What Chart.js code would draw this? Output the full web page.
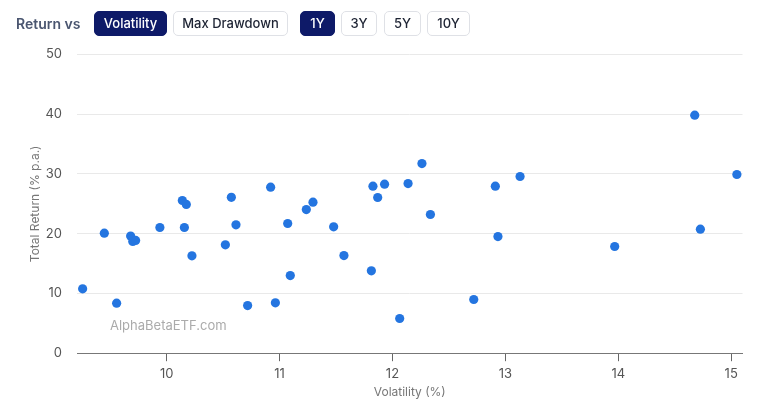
<!DOCTYPE html>
<html>
<head>
<meta charset="utf-8">
<script src="https://cdn.jsdelivr.net/npm/chart.js@4.4.1/dist/chart.umd.min.js"></script>
<style>
  html, body { margin:0; padding:0; background:#fff; width:768px; height:410px; overflow:hidden; font-family: Inter, "Noto Sans", sans-serif; }
  #wrap { position:relative; width:768px; height:410px; }
  canvas { position:absolute; left:0; top:0; }
  .hdr { position:absolute; top:11px; left:0; height:25px; width:768px; }
  .lbl { position:absolute; left:16px; top:0; line-height:25px; font-size:14px; font-weight:600; color:#4a5670; }
  .btn { position:absolute; top:0; height:23px; line-height:23px; box-sizing:content-box; border:1px solid #dfe1e6; border-radius:5px; background:#fff; color:#1d2333; font-size:13px; font-weight:500; text-align:center; }
  .btn.on { background:#0e1a68; border-color:#0e1a68; color:#fff; }
  .wm { position:absolute; left:110px; top:317px; font-size:13px; color:#ababab; }
</style>
</head>
<body>
<div id="wrap">
  <canvas id="c" width="768" height="410"></canvas>
  <div class="hdr">
    <div class="lbl">Return vs</div>
    <div class="btn on" style="left:94px;width:71px;">Volatility</div>
    <div class="btn" style="left:173px;width:113px;">Max Drawdown</div>
    <div class="btn on" style="left:300px;width:33px;">1Y</div>
    <div class="btn" style="left:341px;width:34px;">3Y</div>
    <div class="btn" style="left:384px;width:35px;">5Y</div>
    <div class="btn" style="left:427px;width:41px;">10Y</div>
  </div>
  <div class="wm">AlphaBetaETF.com</div>
</div>
<script>
const volatility = [9.256, 9.448, 9.557, 9.681, 9.700, 9.725, 9.940, 10.139, 10.174, 10.157, 10.224,
  10.520, 10.573, 10.614, 10.717, 10.921, 10.963, 11.072, 11.095, 11.237, 11.296, 11.479, 11.570,
  11.813, 11.827, 11.869, 11.930, 12.064, 12.138, 12.261, 12.336, 12.720, 12.911, 12.934, 13.130,
  13.968, 14.677, 14.727, 15.050];
const totalReturn = [10.78, 20.09, 8.37, 19.6, 18.7, 18.87, 21.04, 25.56, 24.9, 21.04, 16.3,
  18.14, 26.1, 21.49, 7.98, 27.79, 8.43, 21.71, 13.0, 24.05, 25.28, 21.16, 16.35,
  13.79, 27.96, 26.06, 28.29, 5.81, 28.4, 31.75, 23.22, 8.99, 27.96, 19.53, 29.58,
  17.86, 39.84, 20.76, 29.91];
const xTitle = 'Volatility (%)';
const yTitle = 'Total Return (% p.a.)';
const yTicks = [0, 10, 20, 30, 40, 50];

const points = volatility.map((v, i) => ({ x: v, y: totalReturn[i] }));
const pad = 0.05;

new Chart(document.getElementById('c'), {
  type: 'scatter',
  data: { datasets: [{ data: points, backgroundColor: '#2475e0', borderColor: '#2475e0', borderWidth: 0, pointRadius: 4.6, pointHoverRadius: 5 }] },
  options: {
    responsive: false,
    animation: false,
    layout: { padding: { top: 54.5, right: 25.5, bottom: 0, left: 0 } },
    plugins: { legend: { display: false }, tooltip: { enabled: false } },
    scales: {
      x: {
        type: 'linear',
        min: Math.min(...volatility) - pad,
        max: Math.max(...volatility) + pad,
        afterFit: s => { s.height = 56.8; },
        grid: { display: true, drawOnChartArea: false, drawTicks: true, tickLength: 8, tickColor: '#666' },
        border: { display: true, color: '#777', width: 1 },
        ticks: { stepSize: 1, includeBounds: false, color: '#555', padding: 5, font: { family: 'Inter', size: 13 } },
        title: { display: true, text: xTitle, color: '#777', font: { family: 'Inter', size: 12 }, padding: { top: 0, bottom: 10 } }
      },
      y: {
        min: yTicks[0], max: yTicks[yTicks.length - 1],
        afterFit: s => { s.width = 77; },
        afterBuildTicks: s => { s.ticks = yTicks.map(v => ({ value: v })); },
        grid: { color: '#e9e9e9', drawTicks: false, lineWidth: 1 },
        border: { display: false },
        ticks: { color: '#555', padding: 15, font: { family: 'Inter', size: 13 } },
        title: { display: true, text: yTitle, color: '#777', font: { family: 'Inter', size: 12 }, padding: { top: 28, bottom: 0 } }
      }
    }
  }
});
</script>
</body>
</html>
